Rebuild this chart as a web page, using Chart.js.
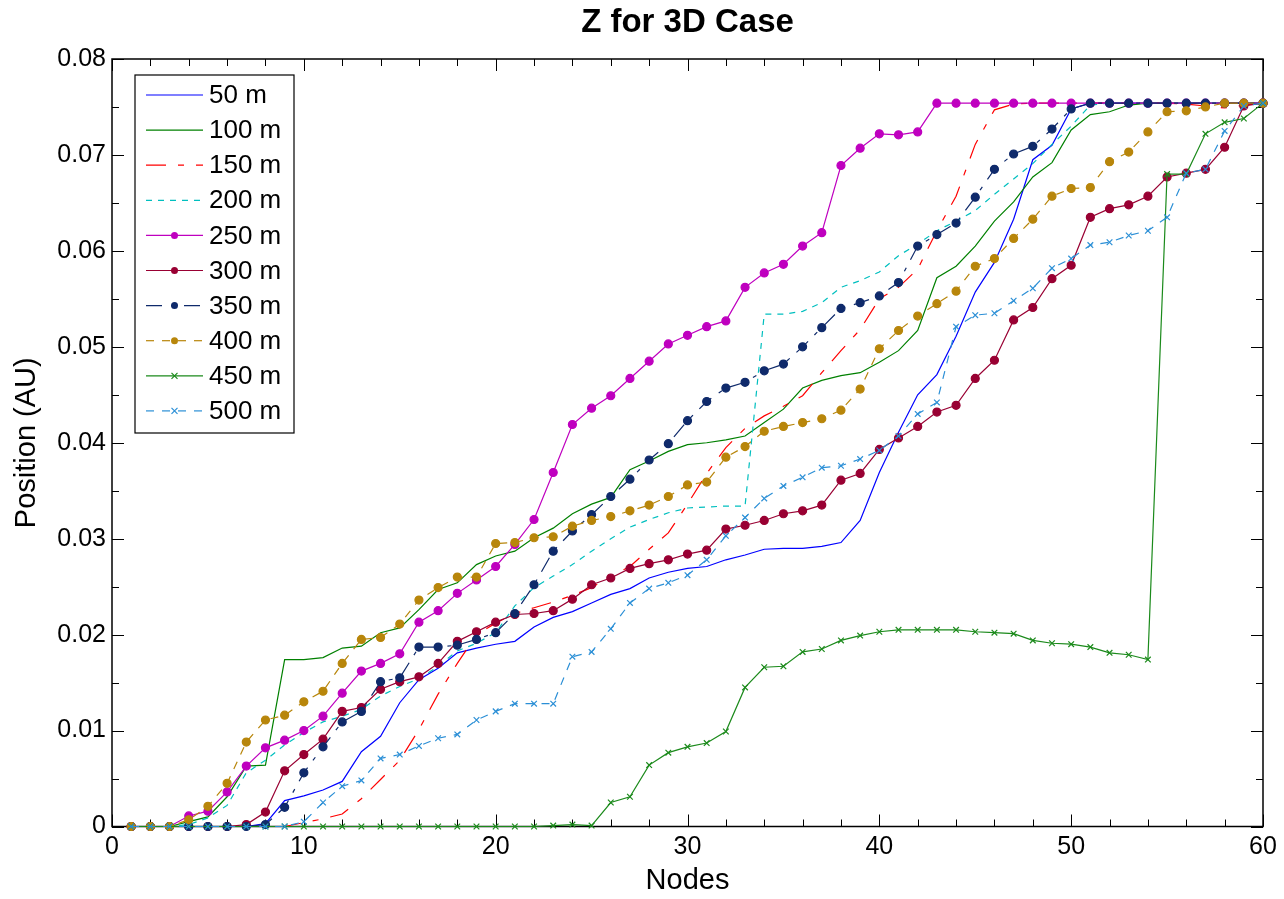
<!DOCTYPE html>
<html>
<head>
<meta charset="utf-8">
<title>Z for 3D Case</title>
<script src="https://cdn.jsdelivr.net/npm/chart.js@4.4.1/dist/chart.umd.min.js"></script>
<style>
  html, body { margin: 0; padding: 0; background: #fff; }
  #grafica { display: block; }
</style>
</head>
<body>
<canvas id="grafica" width="1284" height="899"></canvas>
<script>
// Datos
var nodes = [1,2,3,4,5,6,7,8,9,10,11,12,13,14,15,16,17,18,19,20,
             21,22,23,24,25,26,27,28,29,30,31,32,33,34,35,36,37,38,39,40,
             41,42,43,44,45,46,47,48,49,50,51,52,53,54,55,56,57,58,59,60];

var seriesNames = ['50 m','100 m','150 m','200 m','250 m','300 m','350 m','400 m','450 m','500 m'];

var z50 = [0,0,0,0,0,0,0,0.0003,0.0027,0.0032,0.0038,0.0047,0.0078,0.0094,0.0129,0.0153,0.0165,0.0181,0.0186,0.0190,
           0.0193,0.0208,0.0218,0.0224,0.0233,0.0242,0.0248,0.0259,0.0265,0.0269,0.0271,0.0278,0.0283,0.0289,0.0290,0.0290,0.0292,0.0296,0.0319,0.0369,
           0.0411,0.0450,0.0471,0.0511,0.0557,0.0588,0.0633,0.0695,0.0710,0.0748,0.0754,0.0754,0.0754,0.0754,0.0754,0.0754,0.0754,0.0754,0.0754,0.0754];

var z100 = [0,0,0,0.0005,0.0010,0.0031,0.0063,0.0064,0.0174,0.0174,0.0176,0.0186,0.0188,0.0202,0.0207,0.0226,0.0247,0.0254,0.0273,0.0282,
            0.0287,0.0301,0.0311,0.0326,0.0336,0.0343,0.0372,0.0381,0.0391,0.0398,0.0400,0.0403,0.0407,0.0421,0.0435,0.0457,0.0465,0.0470,0.0473,0.0484,
            0.0496,0.0517,0.0572,0.0584,0.0605,0.0631,0.0651,0.0677,0.0692,0.0726,0.0742,0.0745,0.0752,0.0754,0.0754,0.0754,0.0754,0.0754,0.0754,0.0754];

var z150 = [0,0,0,0,0,0,0,0,0,0.0004,0.0008,0.0013,0.0029,0.0049,0.0069,0.0101,0.0138,0.0170,0.0200,0.0212,
            0.0222,0.0228,0.0234,0.0241,0.0249,0.0261,0.0271,0.0289,0.0306,0.0336,0.0368,0.0395,0.0415,0.0428,0.0438,0.0449,0.0473,0.0496,0.0518,0.0550,
            0.0562,0.0581,0.0621,0.0657,0.0711,0.0747,0.0753,0.0754,0.0754,0.0754,0.0754,0.0754,0.0754,0.0754,0.0754,0.0753,0.0751,0.0749,0.0752,0.0754];

var z200 = [0,0,0,0.0002,0.0009,0.0022,0.0056,0.0069,0.0085,0.0098,0.0109,0.0115,0.0122,0.0136,0.0146,0.0154,0.0167,0.0183,0.0191,0.0202,
            0.0230,0.0249,0.0261,0.0273,0.0287,0.0300,0.0312,0.0320,0.0327,0.0332,0.0333,0.0334,0.0334,0.0534,0.0534,0.0537,0.0546,0.0562,0.0569,0.0578,
            0.0595,0.0607,0.0621,0.0631,0.0642,0.0659,0.0675,0.0691,0.0711,0.0730,0.0752,0.0754,0.0754,0.0754,0.0754,0.0754,0.0754,0.0754,0.0754,0.0754];

var z250 = [0,0,0,0.0011,0.0016,0.0036,0.0063,0.0082,0.0090,0.0100,0.0115,0.0139,0.0162,0.0170,0.0180,0.0213,0.0225,0.0243,0.0257,0.0271,
            0.0294,0.0320,0.0369,0.0419,0.0436,0.0449,0.0467,0.0485,0.0503,0.0512,0.0521,0.0527,0.0562,0.0577,0.0586,0.0605,0.0619,0.0689,0.0707,0.0722,
            0.0721,0.0724,0.0754,0.0754,0.0754,0.0754,0.0754,0.0754,0.0754,0.0754,0.0754,0.0754,0.0754,0.0754,0.0754,0.0754,0.0754,0.0754,0.0754,0.0754];

var z300 = [0,0,0,0,0,0,0.0002,0.0015,0.0058,0.0075,0.0091,0.0120,0.0124,0.0143,0.0151,0.0156,0.0170,0.0193,0.0203,0.0213,
            0.0221,0.0222,0.0225,0.0237,0.0252,0.0259,0.0269,0.0274,0.0278,0.0284,0.0288,0.0310,0.0314,0.0319,0.0326,0.0329,0.0335,0.0361,0.0368,0.0393,
            0.0405,0.0417,0.0432,0.0439,0.0467,0.0486,0.0528,0.0541,0.0571,0.0585,0.0635,0.0644,0.0648,0.0657,0.0677,0.0681,0.0685,0.0708,0.0751,0.0754];

var z350 = [0,0,0,0,0,0,0,0.0002,0.0020,0.0056,0.0083,0.0109,0.0120,0.0151,0.0155,0.0187,0.0187,0.0189,0.0195,0.0202,
            0.0222,0.0252,0.0287,0.0308,0.0325,0.0344,0.0362,0.0382,0.0399,0.0423,0.0443,0.0457,0.0463,0.0475,0.0482,0.0500,0.0520,0.0540,0.0546,0.0553,
            0.0567,0.0605,0.0617,0.0629,0.0656,0.0685,0.0701,0.0709,0.0727,0.0748,0.0754,0.0754,0.0754,0.0754,0.0754,0.0754,0.0754,0.0754,0.0754,0.0754];

var z400 = [0,0,0,0.0007,0.0021,0.0045,0.0088,0.0111,0.0116,0.0130,0.0141,0.0170,0.0195,0.0197,0.0211,0.0236,0.0249,0.0260,0.0260,0.0295,
            0.0296,0.0301,0.0302,0.0313,0.0319,0.0323,0.0329,0.0335,0.0344,0.0356,0.0359,0.0385,0.0396,0.0412,0.0417,0.0421,0.0425,0.0434,0.0456,0.0498,
            0.0517,0.0532,0.0545,0.0558,0.0584,0.0592,0.0613,0.0633,0.0657,0.0665,0.0666,0.0693,0.0703,0.0724,0.0745,0.0746,0.0750,0.0754,0.0754,0.0754];

var z450 = [0,0,0,0,0,0,0,0,0,0,0,0,0,0,0,0,0,0,0,0,
            0,0,0.0001,0.0002,0.0001,0.0025,0.0031,0.0064,0.0077,0.0083,0.0087,0.0099,0.0145,0.0166,0.0167,0.0182,0.0185,0.0194,0.0199,0.0203,
            0.0205,0.0205,0.0205,0.0205,0.0203,0.0202,0.0201,0.0194,0.0191,0.0190,0.0187,0.0181,0.0179,0.0174,0.0680,0.0680,0.0722,0.0734,0.0738,0.0754];

var z500 = [0,0,0,0,0,0,0,0,0,0.0005,0.0025,0.0042,0.0048,0.0071,0.0075,0.0084,0.0092,0.0096,0.0111,0.0120,
            0.0128,0.0128,0.0128,0.0177,0.0182,0.0206,0.0233,0.0248,0.0254,0.0262,0.0278,0.0303,0.0322,0.0342,0.0355,0.0364,0.0374,0.0376,0.0383,0.0392,
            0.0407,0.0430,0.0442,0.0521,0.0533,0.0535,0.0548,0.0561,0.0582,0.0592,0.0606,0.0609,0.0616,0.0621,0.0635,0.0681,0.0685,0.0725,0.0751,0.0754];

var xTicks = [0, 10, 20, 30, 40, 50, 60];
var yTicks = [0, 0.01, 0.02, 0.03, 0.04, 0.05, 0.06, 0.07, 0.08];
var titulo = 'Z for 3D Case';

var valoresZ = [z50, z100, z150, z200, z250, z300, z350, z400, z450, z500];

// estilo de cada linea (tipo matlab)
var estilos = [
  { color: '#0000ff', dash: [],              marker: null },
  { color: '#008000', dash: [],              marker: null },
  { color: '#ff0000', dash: [20, 12, 6, 12], marker: null },
  { color: '#00bfbf', dash: [6, 6],          marker: null },
  { color: '#bf00bf', dash: [],              marker: 'circle' },
  { color: '#990033', dash: [],              marker: 'circle' },
  { color: '#0f2a6b', dash: [16, 9, 4, 9],   marker: 'circle' },
  { color: '#b8860b', dash: [8, 8],          marker: 'circle' },
  { color: '#1b8a1b', dash: [],              marker: 'crossRot' },
  { color: '#2b8fd6', dash: [8, 8],          marker: 'crossRot' }
];

var fuente = "'Liberation Sans', Arial, Helvetica, sans-serif";
Chart.defaults.font.family = fuente;
Chart.defaults.color = '#000';

function puntos(valores) {
  return nodes.map(function(n, i) { return { x: n, y: valores[i] }; });
}

var datasets = seriesNames.map(function(nombre, i) {
  var e = estilos[i];
  return {
    label: nombre,
    data: puntos(valoresZ[i]),
    borderColor: e.color,
    backgroundColor: e.color,
    borderWidth: 1.2,
    borderDash: e.dash,
    pointStyle: e.marker || 'circle',
    pointRadius: e.marker ? 4 : 0,
    pointBorderWidth: 1.2,
    pointHoverRadius: e.marker ? 4 : 0,
    tension: 0,
    fill: false,
    clip: false,
    order: seriesNames.length - i
  };
});

// caja y marcas de los ejes + titulo centrado sobre el area
var ejesMatlab = {
  id: 'ejesMatlab',
  beforeDatasetsDraw: function(chart) {
    var ctx = chart.ctx, a = chart.chartArea;
    var sx = chart.scales.x, sy = chart.scales.y;
    ctx.save();
    ctx.strokeStyle = '#000';
    ctx.lineWidth = 1.5;
    ctx.strokeRect(a.left, a.top, a.right - a.left, a.bottom - a.top);
    ctx.lineWidth = 1;
    ctx.beginPath();
    for (var v = 0; v <= 60; v += 2) {
      var px = Math.round(sx.getPixelForValue(v)) + 0.5;
      var lx = (v % 10 === 0) ? 12 : 7;
      ctx.moveTo(px, a.bottom); ctx.lineTo(px, a.bottom - lx);
      ctx.moveTo(px, a.top); ctx.lineTo(px, a.top + lx);
    }
    for (var k = 0; k <= 16; k++) {
      var py = Math.round(sy.getPixelForValue(k * 0.005)) + 0.5;
      var ly = (k % 2 === 0) ? 12 : 7;
      ctx.moveTo(a.left, py); ctx.lineTo(a.left + ly, py);
      ctx.moveTo(a.right, py); ctx.lineTo(a.right - ly, py);
    }
    ctx.stroke();

    ctx.fillStyle = '#000';
    ctx.font = 'bold 33px ' + fuente;
    ctx.textAlign = 'center';
    ctx.textBaseline = 'middle';
    ctx.fillText(titulo, (a.left + a.right) / 2, 23);
    ctx.restore();
  }
};

// leyenda con caja, como en matlab
var leyendaMatlab = {
  id: 'leyendaMatlab',
  afterDraw: function(chart) {
    var ctx = chart.ctx;
    var a = chart.chartArea;
    var x0 = a.left + 23, y0 = a.top + 16, w = 159, h = 358;
    var paso = 35.1;
    ctx.save();
    ctx.fillStyle = '#fff';
    ctx.fillRect(x0, y0, w, h);
    ctx.strokeStyle = '#000';
    ctx.lineWidth = 1.2;
    ctx.strokeRect(x0, y0, w, h);
    ctx.font = '26px ' + fuente;
    ctx.textBaseline = 'middle';
    ctx.textAlign = 'left';
    chart.data.datasets.forEach(function(ds, i) {
      var cy = y0 + 20 + i * paso;
      ctx.strokeStyle = ds.borderColor;
      ctx.lineWidth = 1.2;
      ctx.setLineDash(ds.borderDash);
      ctx.beginPath();
      ctx.moveTo(x0 + 11, cy);
      ctx.lineTo(x0 + 68, cy);
      ctx.stroke();
      ctx.setLineDash([]);
      if (ds.pointRadius > 0) {
        ctx.fillStyle = ds.borderColor;
        ctx.strokeStyle = ds.borderColor;
        if (ds.pointStyle === 'circle') {
          ctx.beginPath();
          ctx.arc(x0 + 39.5, cy, 3.5, 0, Math.PI * 2);
          ctx.fill();
        } else {
          ctx.beginPath();
          ctx.moveTo(x0 + 36.5, cy - 3); ctx.lineTo(x0 + 42.5, cy + 3);
          ctx.moveTo(x0 + 36.5, cy + 3); ctx.lineTo(x0 + 42.5, cy - 3);
          ctx.stroke();
        }
      }
      ctx.fillStyle = '#000';
      ctx.fillText(ds.label, x0 + 74, cy + 1);
    });
    ctx.restore();
  }
};

new Chart(document.getElementById('grafica'), {
  type: 'line',
  data: { datasets: datasets },
  options: {
    responsive: false,
    animation: false,
    devicePixelRatio: 1,
    layout: { padding: { left: 0, right: 21, top: 59, bottom: 0 } },
    plugins: {
      legend: { display: false },
      tooltip: { enabled: false },
      title: { display: false }
    },
    scales: {
      x: {
        type: 'linear',
        min: 0,
        max: 60,
        afterBuildTicks: function(scale) {
          scale.ticks = xTicks.map(function(v) { return { value: v }; });
        },
        afterFit: function(scale) { scale.height = 72.5; },
        ticks: { font: { size: 25 }, color: '#000', padding: 6, maxRotation: 0, autoSkip: false },
        grid: { display: false, drawTicks: false },
        border: { display: false },
        title: { display: true, text: 'Nodes', color: '#000', font: { size: 29 }, padding: { top: 0, bottom: 1 } }
      },
      y: {
        type: 'linear',
        min: 0,
        max: 0.08,
        afterBuildTicks: function(scale) {
          scale.ticks = yTicks.map(function(v) { return { value: v }; });
        },
        afterFit: function(scale) { scale.width = 112; },
        ticks: {
          font: { size: 25 },
          color: '#000',
          padding: 6,
          callback: function(v) { return v === 0 ? '0' : v.toFixed(2); }
        },
        grid: { display: false, drawTicks: false },
        border: { display: false },
        title: { display: true, text: 'Position (AU)', color: '#000', font: { size: 29 }, padding: { top: 10, bottom: 0 } }
      }
    }
  },
  plugins: [ejesMatlab, leyendaMatlab]
});
</script>
</body>
</html>
